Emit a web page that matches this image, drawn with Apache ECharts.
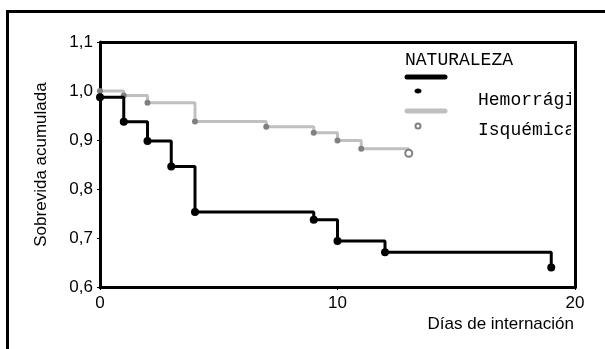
<!DOCTYPE html>
<html>
<head>
<meta charset="utf-8">
<script src="https://cdn.jsdelivr.net/npm/echarts@6/dist/echarts.min.js"></script>
<style>
  html, body { margin: 0; padding: 0; background: #fff; }
  #chart { width: 605px; height: 349px; }
</style>
</head>
<body>
<div id="chart"></div>
<script>
// Kaplan-Meier steps: day of the event and survival after it
const hemDays = [0, 1, 2, 3, 4, 9, 10, 12, 19]
const hemSurv = [0.987, 0.937, 0.898, 0.846, 0.753, 0.737, 0.694, 0.671, 0.640]
const isqDays = [0, 1, 2, 4, 7, 9, 10, 11, 13]
const isqSurv = [1.0, 0.991, 0.976, 0.938, 0.927, 0.915, 0.899, 0.882, 0.873]

const legendTitle = 'NATURALEZA'
const groupNames = ['Hemorrágica', 'Isquémica']

const xMin = 0
const xMax = 20
const xStep = 10
const yMin = 0.6
const yMax = 1.1
const yStep = 0.1

const sans = 'Liberation Sans, Arial, sans-serif'
const mono = 'Liberation Mono, Courier New, monospace'

const chart = echarts.init(document.getElementById('chart'))

const hemData = hemDays.map((d, i) => [d, hemSurv[i]])
const isqData = isqDays.map((d, i) => {
  if (i === isqDays.length - 1) {
    // last case is drawn as an open circle
    return {
      value: [d, isqSurv[i]],
      symbol: 'emptyCircle',
      symbolSize: 7,
      itemStyle: { color: '#808080', borderWidth: 2 }
    }
  }
  return [d, isqSurv[i]]
})

chart.setOption({
  animation: false,
  grid: {
    left: 100,
    top: 42,
    right: 30,
    bottom: 62
  },
  xAxis: {
    type: 'value',
    min: xMin,
    max: xMax,
    interval: xStep,
    axisLine: { lineStyle: { color: '#000', width: 3 } },
    axisTick: { show: true, length: 3, lineStyle: { color: '#000', width: 1 } },
    axisLabel: { color: '#000', fontFamily: sans, fontSize: 17, margin: 8 },
    splitLine: { show: false }
  },
  yAxis: {
    type: 'value',
    min: yMin,
    max: yMax,
    interval: yStep,
    name: 'Sobrevida acumulada',
    nameLocation: 'middle',
    nameGap: 50,
    nameTextStyle: { color: '#000', fontFamily: sans, fontSize: 17 },
    axisLine: { show: true, lineStyle: { color: '#000', width: 3 } },
    axisTick: { show: true, length: 3, lineStyle: { color: '#000', width: 1 } },
    axisLabel: {
      color: '#000',
      fontFamily: sans,
      fontSize: 17,
      margin: 7,
      formatter: v => v.toFixed(1).replace('.', ',')
    },
    splitLine: { show: false }
  },
  series: [{
    name: groupNames[1],
    type: 'line',
    step: 'end',
    data: isqData,
    symbol: 'circle',
    symbolSize: 6,
    showAllSymbol: true,
    lineStyle: { color: '#c0c0c0', width: 3 },
    itemStyle: { color: '#808080' },
    z: 3
  }, {
    name: groupNames[0],
    type: 'line',
    step: 'end',
    data: hemData,
    symbol: 'circle',
    symbolSize: 8,
    showAllSymbol: true,
    lineStyle: { color: '#000', width: 3 },
    itemStyle: { color: '#000' },
    z: 4
  }],
  graphic: [
    // outer frame (left and top edges are the only ones inside the picture)
    {
      type: 'polyline',
      shape: { points: [[7.5, 360], [7.5, 11.5], [620, 11.5]] },
      style: { stroke: '#000', lineWidth: 3, fill: null },
      z: 100
    },
    // legend
    {
      type: 'text',
      left: 405,
      top: 51,
      style: { text: legendTitle, font: '18px ' + mono, fill: '#000' },
      z: 100
    },
    {
      type: 'line',
      shape: { x1: 407, y1: 77, x2: 445, y2: 77 },
      style: { stroke: '#000', lineWidth: 5, lineCap: 'round' },
      z: 100
    },
    {
      type: 'ellipse',
      shape: { cx: 418, cy: 91, rx: 3.5, ry: 2.5 },
      style: { fill: '#000' },
      z: 100
    },
    {
      type: 'text',
      left: 478,
      top: 91,
      style: { text: groupNames[0], font: '18px ' + mono, fill: '#000' },
      z: 100
    },
    {
      type: 'line',
      shape: { x1: 407, y1: 111, x2: 445, y2: 111 },
      style: { stroke: '#c0c0c0', lineWidth: 5, lineCap: 'round' },
      z: 100
    },
    {
      type: 'circle',
      shape: { cx: 418, cy: 126, r: 2.5 },
      style: { fill: '#fff', stroke: '#808080', lineWidth: 2 },
      z: 100
    },
    {
      type: 'text',
      left: 478,
      top: 121,
      style: { text: groupNames[1], font: '18px ' + mono, fill: '#000' },
      z: 100
    },
    // legend text is cut by the plot frame
    {
      type: 'rect',
      shape: { x: 571, y: 44, width: 40, height: 100 },
      style: { fill: '#fff' },
      z: 101
    },
    // top and right edges of the plot frame
    {
      type: 'polyline',
      shape: { points: [[100, 42.5], [575.5, 42.5], [575.5, 288.5]] },
      style: { stroke: '#000', lineWidth: 3, fill: null },
      z: 102
    },
    // x axis title
    {
      type: 'text',
      right: 31,
      top: 316,
      style: { text: 'Días de internación', font: '17px ' + sans, fill: '#000' },
      z: 100
    }
  ]
})
</script>
</body>
</html>
